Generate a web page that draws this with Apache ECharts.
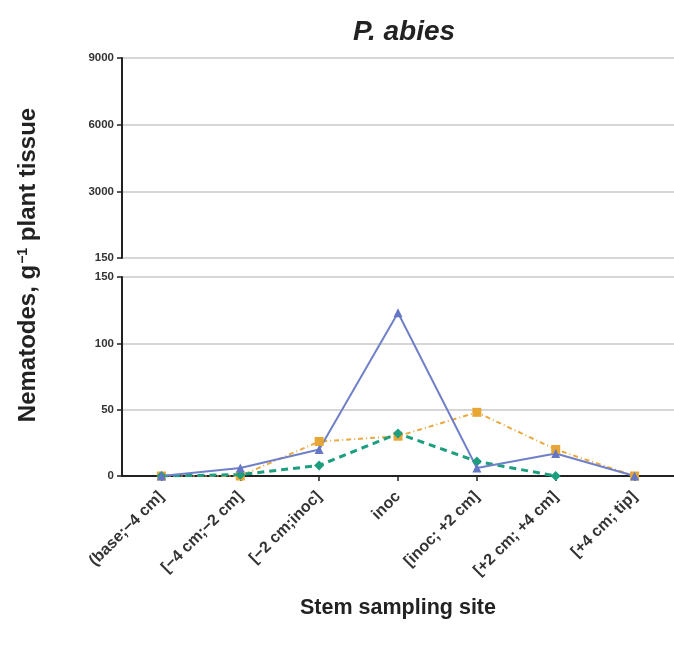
<!DOCTYPE html>
<html><head><meta charset="utf-8">
<script src="https://cdn.jsdelivr.net/npm/echarts@6/dist/echarts.min.js"></script>
<style>html,body{margin:0;padding:0;background:#fff}#c{width:674px;height:645px}</style>
</head><body><div id="c"></div>
<script>
const categories = ['(base;\u22124 cm]', '[\u22124 cm;\u22122 cm]', '[\u22122 cm;inoc]', 'inoc', '[inoc; +2 cm]', '[+2 cm; +4 cm]', '[+4 cm; tip]'];
const blueValues = [0, 6, 20, 123, 6, 17, 0];
const orangeValues = [0, 0, 26, 30, 48, 20, 0];
const tealValues = [0, 1, 8, 32, 11, 0, null];
const topTickLabels = ['150', '3000', '6000', '9000'];
const bottomTicks = [0, 50, 100, 150];

const chart = echarts.init(document.getElementById('c'));
const axisLab = {color: '#333', fontWeight: 'bold', fontSize: 11.5, fontFamily: 'Liberation Sans'};
const yAxisCommon = {
  axisLine: {show: true, lineStyle: {color: '#222', width: 2}},
  axisTick: {show: true, length: 5, lineStyle: {color: '#222', width: 1.5}},
  splitLine: {show: true, lineStyle: {color: '#c8c8c8', width: 1.5}},
};
chart.setOption({
  animation: false,
  title: {text: 'P. abies', left: 399, textAlign: 'center', top: 13,
    textStyle: {fontStyle: 'italic', fontWeight: 'bold', fontSize: 28, color: '#222', fontFamily: 'Liberation Sans'}},
  grid: [
    {left: 122, right: 0, top: 58, height: 200},
    {left: 122, right: 0, top: 277, height: 199}
  ],
  xAxis: [
    {gridIndex: 0, type: 'category', data: categories, axisLine: {show: false}, axisTick: {show: false}, axisLabel: {show: false}},
    {gridIndex: 1, type: 'category', data: categories,
      axisLine: {show: true, lineStyle: {color: '#222', width: 2}},
      axisTick: {show: true, alignWithLabel: true, length: 5, lineStyle: {color: '#222', width: 1.5}},
      axisLabel: Object.assign({}, axisLab, {rotate: 45, margin: 18, fontSize: 16}),
      name: 'Stem sampling site', nameLocation: 'middle', nameGap: 121,
      nameTextStyle: {fontWeight: 'bold', fontSize: 21.5, color: '#222', fontFamily: 'Liberation Sans'}}
  ],
  yAxis: [
    Object.assign({gridIndex: 0, type: 'value', min: 0, max: 9000, interval: 3000,
      axisLabel: Object.assign({}, axisLab, {formatter: (v) => topTickLabels[Math.round(v / 3000)]})}, yAxisCommon),
    Object.assign({gridIndex: 1, type: 'value', min: bottomTicks[0], max: bottomTicks[3], interval: 50,
      axisLabel: axisLab}, yAxisCommon)
  ],
  graphic: [{
    type: 'text', rotation: Math.PI / 2,
    x: 28, y: 265,
    style: {
      text: '{a|Nematodes, g}{s|\u22121}{a| plant tissue}',
      rich: {
        a: {fontSize: 24, fontWeight: 'bold', fill: '#222', fontFamily: 'Liberation Sans', verticalAlign: 'bottom'},
        s: {fontSize: 14, fontWeight: 'bold', fill: '#222', fontFamily: 'Liberation Sans', verticalAlign: 'top', padding: [0, 0, 10, 1]}
      },
      textAlign: 'center', textVerticalAlign: 'middle'
    }
  }],
  series: [
    {type: 'line', xAxisIndex: 1, yAxisIndex: 1, data: orangeValues, symbol: 'rect', symbolSize: 9,
      lineStyle: {color: '#eaa93f', width: 2, type: [5, 3, 1, 3]}, itemStyle: {color: '#e8a735'}},
    {type: 'line', xAxisIndex: 1, yAxisIndex: 1, data: tealValues, symbol: 'diamond', symbolSize: 10,
      lineStyle: {color: '#1c9e7f', width: 3, type: [7, 5]}, itemStyle: {color: '#1c9e7f'}},
    {type: 'line', xAxisIndex: 1, yAxisIndex: 1, data: blueValues, symbol: 'triangle', symbolSize: 9,
      lineStyle: {color: '#6f80c8', width: 2}, itemStyle: {color: '#6477c4'}}
  ]
});
</script></body></html>
